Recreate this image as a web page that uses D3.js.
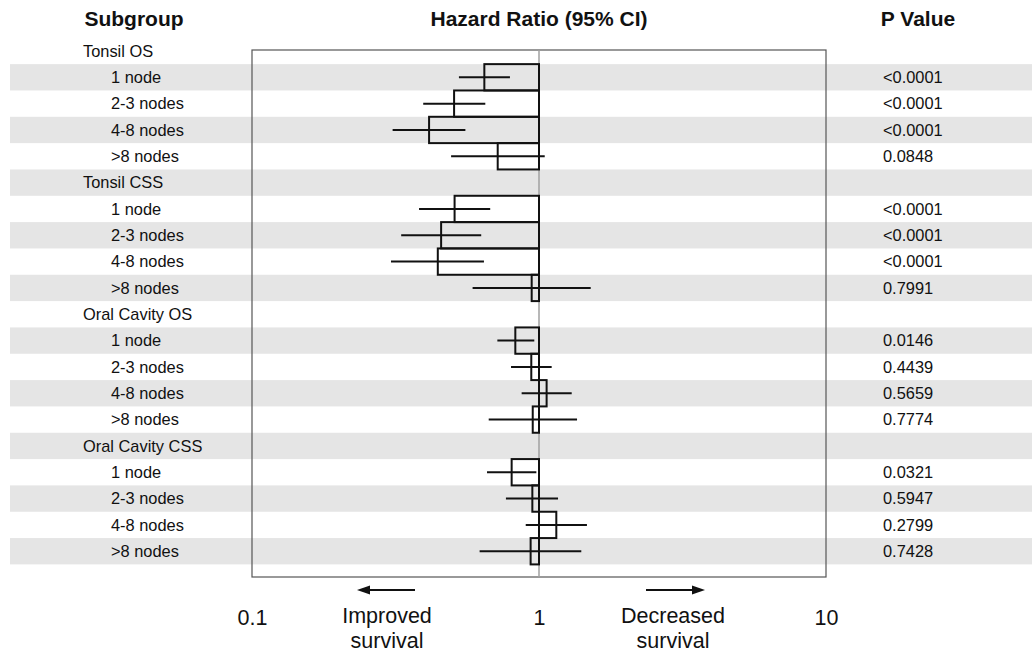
<!DOCTYPE html>
<html>
<head>
<meta charset="utf-8">
<script src="https://cdn.jsdelivr.net/npm/d3@7"></script>
<style>
  body { margin: 0; background: #fff; }
  svg { font-family: "Liberation Sans", Arial, sans-serif; }
</style>
</head>
<body>
<div id="chart"></div>
<script>
// rows of the forest plot, top to bottom
const labels = [
  "Tonsil OS", "1 node", "2-3 nodes", "4-8 nodes", ">8 nodes",
  "Tonsil CSS", "1 node", "2-3 nodes", "4-8 nodes", ">8 nodes",
  "Oral Cavity OS", "1 node", "2-3 nodes", "4-8 nodes", ">8 nodes",
  "Oral Cavity CSS", "1 node", "2-3 nodes", "4-8 nodes", ">8 nodes"
];
const isGroup = [1,0,0,0,0, 1,0,0,0,0, 1,0,0,0,0, 1,0,0,0,0];

// hazard ratios and 95% CI (null for group headers)
const hr = [null, 0.645, 0.506, 0.414, 0.718,
            null, 0.508, 0.456, 0.444, 0.943,
            null, 0.827, 0.940, 1.063, 0.951,
            null, 0.803, 0.948, 1.149, 0.935];
const ciLow = [null, 0.526, 0.395, 0.309, 0.494,
               null, 0.382, 0.331, 0.305, 0.587,
               null, 0.716, 0.799, 0.870, 0.668,
               null, 0.659, 0.767, 0.899, 0.621];
const ciHigh = [null, 0.792, 0.650, 0.554, 1.047,
                null, 0.676, 0.629, 0.643, 1.514,
                null, 0.963, 1.107, 1.300, 1.357,
                null, 0.979, 1.165, 1.469, 1.404];
const pValues = ["", "<0.0001", "<0.0001", "<0.0001", "0.0848",
                 "", "<0.0001", "<0.0001", "<0.0001", "0.7991",
                 "", "0.0146", "0.4439", "0.5659", "0.7774",
                 "", "0.0321", "0.5947", "0.2799", "0.7428"];
const ticks = [0.1, 1, 10];

const W = 1032, H = 658;
const svg = d3.select("#chart").append("svg")
  .attr("width", W).attr("height", H);

const x = d3.scaleLog().domain([0.1, 10]).range([252, 826]);
const y = d3.scaleBand().domain(d3.range(labels.length)).range([37.8, 564.4]);
const rowH = y.bandwidth();
const boxTop = 50, boxBottom = 577;

// striped background
svg.append("g").selectAll("rect")
  .data(d3.range(labels.length).filter(i => i % 2 === 1))
  .enter().append("rect")
  .attr("x", 10).attr("width", W - 10)
  .attr("y", i => y(i)).attr("height", rowH)
  .attr("fill", "#e5e5e5");

// headers
const head = svg.append("g").attr("font-weight", "bold").attr("font-size", 21)
  .attr("text-anchor", "middle").attr("fill", "#111");
head.append("text").attr("x", 134).attr("y", 26).text("Subgroup");
head.append("text").attr("x", x(1)).attr("y", 26).text("Hazard Ratio (95% CI)");
head.append("text").attr("x", 918).attr("y", 26).text("P Value");

// row labels
svg.append("g").selectAll("text")
  .data(labels).enter().append("text")
  .attr("x", (d, i) => isGroup[i] ? 83 : 111)
  .attr("y", (d, i) => y(i) + rowH / 2)
  .attr("dy", "0.35em")
  .attr("font-size", 16.4).attr("fill", "#111")
  .text(d => d);

// p values
svg.append("g").selectAll("text")
  .data(pValues).enter().append("text")
  .attr("x", 883)
  .attr("y", (d, i) => y(i) + rowH / 2)
  .attr("dy", "0.35em")
  .attr("font-size", 16.4).attr("fill", "#111")
  .text(d => d);

// plot frame
svg.append("rect")
  .attr("x", x(0.1)).attr("y", boxTop)
  .attr("width", x(10) - x(0.1)).attr("height", boxBottom - boxTop)
  .attr("fill", "none").attr("stroke", "#555").attr("stroke-width", 1.2);

// reference line at HR = 1
svg.append("line")
  .attr("x1", x(1)).attr("x2", x(1))
  .attr("y1", boxTop).attr("y2", boxBottom)
  .attr("stroke", "#a0a0a0").attr("stroke-width", 1.5);

const rows = d3.range(labels.length).filter(i => hr[i] != null);

// bars from 1 to HR
svg.append("g").selectAll("rect")
  .data(rows).enter().append("rect")
  .attr("x", i => Math.min(x(hr[i]), x(1)))
  .attr("width", i => Math.abs(x(hr[i]) - x(1)))
  .attr("y", i => y(i)).attr("height", rowH)
  .attr("fill", "none").attr("stroke", "#111").attr("stroke-width", 2);

// confidence intervals
svg.append("g").selectAll("line")
  .data(rows).enter().append("line")
  .attr("x1", i => x(ciLow[i])).attr("x2", i => x(ciHigh[i]))
  .attr("y1", i => y(i) + rowH / 2).attr("y2", i => y(i) + rowH / 2)
  .attr("stroke", "#111").attr("stroke-width", 2);

// bottom axis
const axis = svg.append("g").attr("transform", "translate(0,608)")
  .call(d3.axisBottom(x).tickValues(ticks).tickSize(0).tickPadding(0)
    .tickFormat(d3.format("")));
axis.select(".domain").remove();
axis.selectAll("text").attr("dy", null).attr("y", 17)
  .attr("font-size", 21.5).attr("fill", "#111")
  .attr("font-family", "Liberation Sans, Arial, sans-serif");

// direction arrows
const arrowY = 590;
const arrows = [
  { from: 415, to: 357 },
  { from: 646, to: 705 }
];
arrows.forEach(a => {
  const dir = Math.sign(a.to - a.from);
  svg.append("line")
    .attr("x1", a.from).attr("x2", a.to - dir * 8)
    .attr("y1", arrowY).attr("y2", arrowY)
    .attr("stroke", "#111").attr("stroke-width", 2);
  svg.append("path")
    .attr("d", `M${a.to},${arrowY} L${a.to - dir * 13},${arrowY - 4.5} L${a.to - dir * 13},${arrowY + 4.5} Z`)
    .attr("fill", "#111");
});

// direction labels
const dirLabels = [
  { cx: 387, lines: ["Improved", "survival"] },
  { cx: 673, lines: ["Decreased", "survival"] }
];
dirLabels.forEach(d => {
  d.lines.forEach((t, k) => {
    svg.append("text")
      .attr("x", d.cx).attr("y", 623 + k * 25)
      .attr("text-anchor", "middle")
      .attr("font-size", 21.5).attr("fill", "#111")
      .text(t);
  });
});
</script>
</body>
</html>
